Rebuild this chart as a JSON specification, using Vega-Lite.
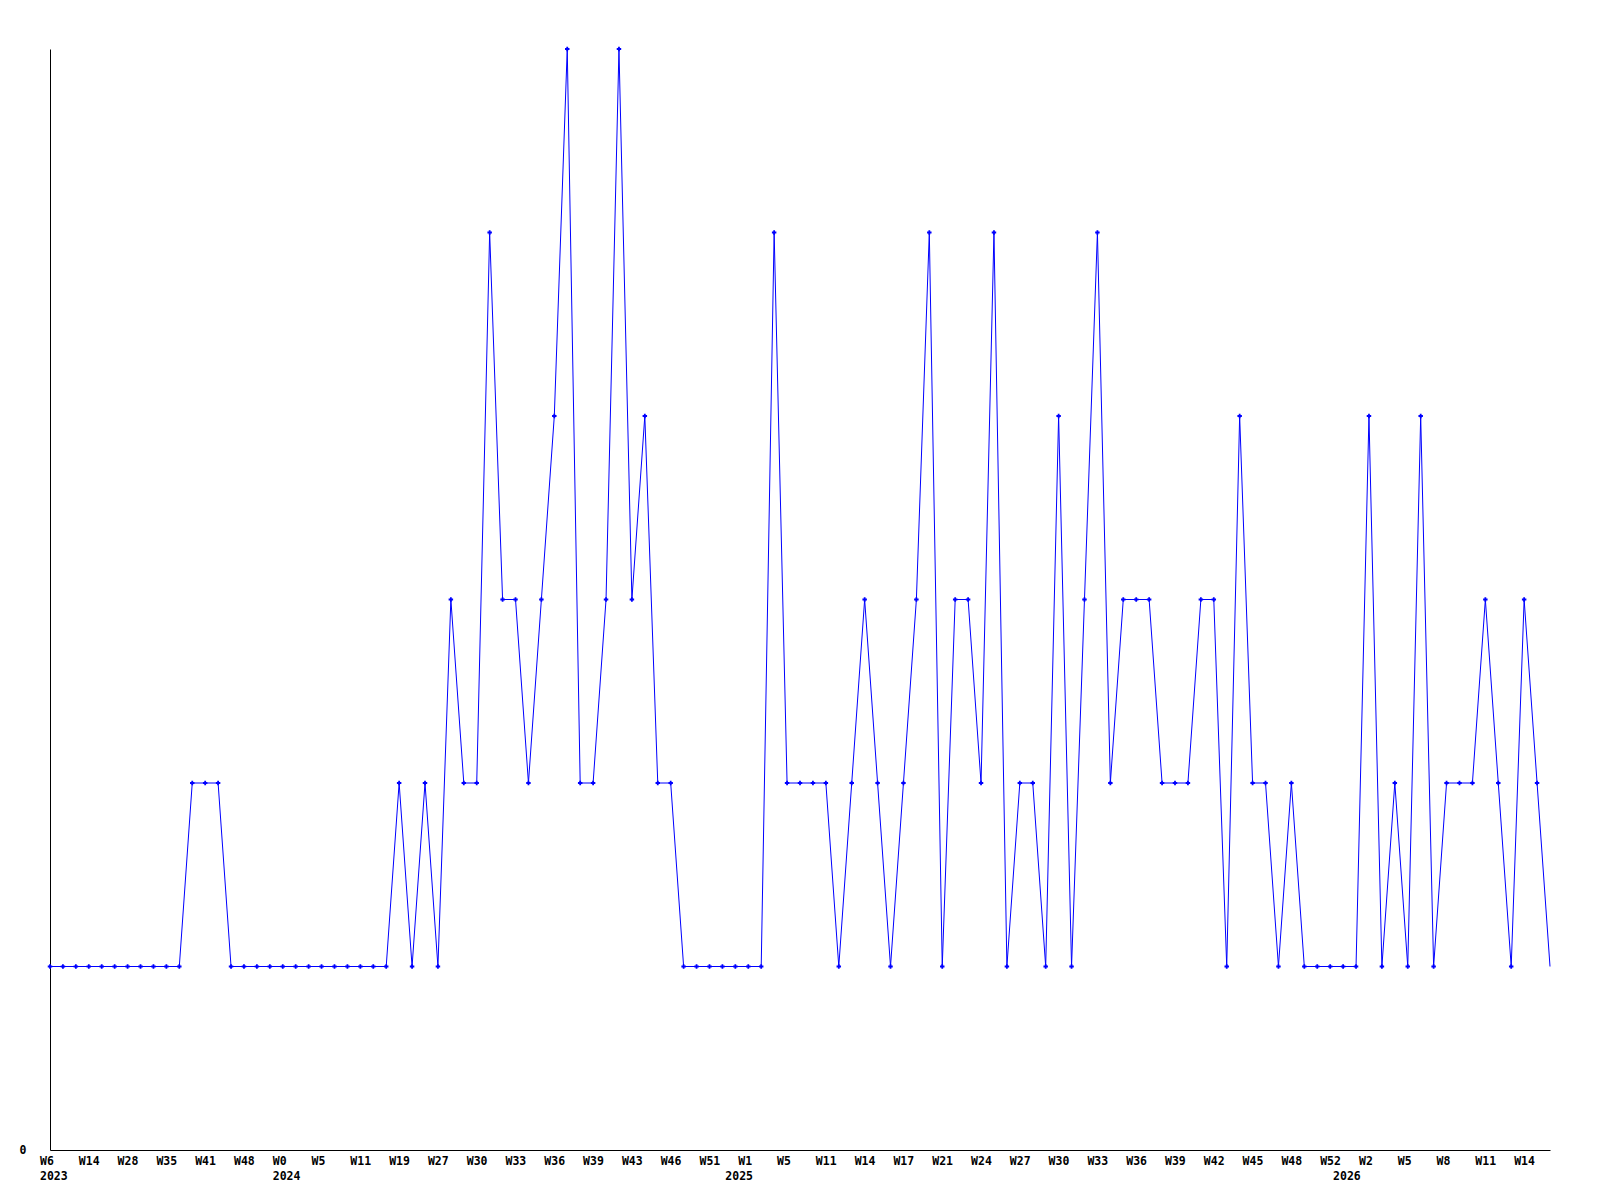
{
  "$schema": "https://vega.github.io/schema/vega-lite/v6.json",
  "width": 1500,
  "height": 1101,
  "autosize": "none",
  "padding": {"left": 50, "top": 49, "right": 50, "bottom": 50},
  "background": "white",
  "config": {"view": {"stroke": null}, "font": "DejaVu Sans Mono"},
  "data": {"values": [
    {"i":0,"v":1,"week":"W6","year":"2023"},{"i":1,"v":1},{"i":2,"v":1},
    {"i":3,"v":1,"week":"W14"},{"i":4,"v":1},{"i":5,"v":1},
    {"i":6,"v":1,"week":"W28"},{"i":7,"v":1},{"i":8,"v":1},
    {"i":9,"v":1,"week":"W35"},{"i":10,"v":1},{"i":11,"v":2},
    {"i":12,"v":2,"week":"W41"},{"i":13,"v":2},{"i":14,"v":1},
    {"i":15,"v":1,"week":"W48"},{"i":16,"v":1},{"i":17,"v":1},
    {"i":18,"v":1,"week":"W0","year":"2024"},{"i":19,"v":1},{"i":20,"v":1},
    {"i":21,"v":1,"week":"W5"},{"i":22,"v":1},{"i":23,"v":1},
    {"i":24,"v":1,"week":"W11"},{"i":25,"v":1},{"i":26,"v":1},
    {"i":27,"v":2,"week":"W19"},{"i":28,"v":1},{"i":29,"v":2},
    {"i":30,"v":1,"week":"W27"},{"i":31,"v":3},{"i":32,"v":2},
    {"i":33,"v":2,"week":"W30"},{"i":34,"v":5},{"i":35,"v":3},
    {"i":36,"v":3,"week":"W33"},{"i":37,"v":2},{"i":38,"v":3},
    {"i":39,"v":4,"week":"W36"},{"i":40,"v":6},{"i":41,"v":2},
    {"i":42,"v":2,"week":"W39"},{"i":43,"v":3},{"i":44,"v":6},
    {"i":45,"v":3,"week":"W43"},{"i":46,"v":4},{"i":47,"v":2},
    {"i":48,"v":2,"week":"W46"},{"i":49,"v":1},{"i":50,"v":1},
    {"i":51,"v":1,"week":"W51"},{"i":52,"v":1},{"i":53,"v":1,"year":"2025"},
    {"i":54,"v":1,"week":"W1"},{"i":55,"v":1},{"i":56,"v":5},
    {"i":57,"v":2,"week":"W5"},{"i":58,"v":2},{"i":59,"v":2},
    {"i":60,"v":2,"week":"W11"},{"i":61,"v":1},{"i":62,"v":2},
    {"i":63,"v":3,"week":"W14"},{"i":64,"v":2},{"i":65,"v":1},
    {"i":66,"v":2,"week":"W17"},{"i":67,"v":3},{"i":68,"v":5},
    {"i":69,"v":1,"week":"W21"},{"i":70,"v":3},{"i":71,"v":3},
    {"i":72,"v":2,"week":"W24"},{"i":73,"v":5},{"i":74,"v":1},
    {"i":75,"v":2,"week":"W27"},{"i":76,"v":2},{"i":77,"v":1},
    {"i":78,"v":4,"week":"W30"},{"i":79,"v":1},{"i":80,"v":3},
    {"i":81,"v":5,"week":"W33"},{"i":82,"v":2},{"i":83,"v":3},
    {"i":84,"v":3,"week":"W36"},{"i":85,"v":3},{"i":86,"v":2},
    {"i":87,"v":2,"week":"W39"},{"i":88,"v":2},{"i":89,"v":3},
    {"i":90,"v":3,"week":"W42"},{"i":91,"v":1},{"i":92,"v":4},
    {"i":93,"v":2,"week":"W45"},{"i":94,"v":2},{"i":95,"v":1},
    {"i":96,"v":2,"week":"W48"},{"i":97,"v":1},{"i":98,"v":1},
    {"i":99,"v":1,"week":"W52"},{"i":100,"v":1,"year":"2026"},{"i":101,"v":1},
    {"i":102,"v":4,"week":"W2"},{"i":103,"v":1},{"i":104,"v":2},
    {"i":105,"v":1,"week":"W5"},{"i":106,"v":4},{"i":107,"v":1},
    {"i":108,"v":2,"week":"W8"},{"i":109,"v":2},{"i":110,"v":2},
    {"i":111,"v":3,"week":"W11"},{"i":112,"v":2},{"i":113,"v":1},
    {"i":114,"v":3,"week":"W14"},{"i":115,"v":2},{"i":116,"v":1}
  ]},
  "layer": [
    {
      "mark": {"type": "line", "color": "#0000ff", "strokeWidth": 1},
      "encoding": {
        "x": {"field": "i", "type": "quantitative",
              "scale": {"domain": [0, 116], "nice": false, "zero": false},
              "axis": {"title": null, "labels": false, "ticks": false, "grid": false, "domainColor": "#000000", "domainWidth": 1}},
        "y": {"field": "v", "type": "quantitative",
              "scale": {"domain": [0, 6], "nice": false},
              "axis": {"title": null, "values": [0], "format": "d", "ticks": false, "grid": false, "labelPadding": 24,
                       "labelFont": "DejaVu Sans Mono", "labelFontWeight": "bold", "labelFontSize": 11.5,
                       "labelColor": "#000000", "domainColor": "#000000", "domainWidth": 1}}
      }
    },
    {
      "transform": [{"filter": "datum.i < 116"}],
      "mark": {"type": "point", "shape": "cross", "filled": true, "size": 20, "color": "#0000ff", "opacity": 1},
      "encoding": {
        "x": {"field": "i", "type": "quantitative"},
        "y": {"field": "v", "type": "quantitative"}
      }
    },
    {
      "transform": [{"filter": "datum.week"}],
      "mark": {"type": "text", "align": "left", "baseline": "middle", "dx": -10, "dy": 12,
               "font": "DejaVu Sans Mono", "fontWeight": "bold", "fontSize": 11.5, "color": "#000000"},
      "encoding": {
        "x": {"field": "i", "type": "quantitative"},
        "y": {"datum": 0, "type": "quantitative"},
        "text": {"field": "week"}
      }
    },
    {
      "transform": [{"filter": "datum.year"}],
      "mark": {"type": "text", "align": "left", "baseline": "middle", "dx": -10, "dy": 27,
               "font": "DejaVu Sans Mono", "fontWeight": "bold", "fontSize": 11.5, "color": "#000000"},
      "encoding": {
        "x": {"field": "i", "type": "quantitative"},
        "y": {"datum": 0, "type": "quantitative"},
        "text": {"field": "year"}
      }
    }
  ]
}
